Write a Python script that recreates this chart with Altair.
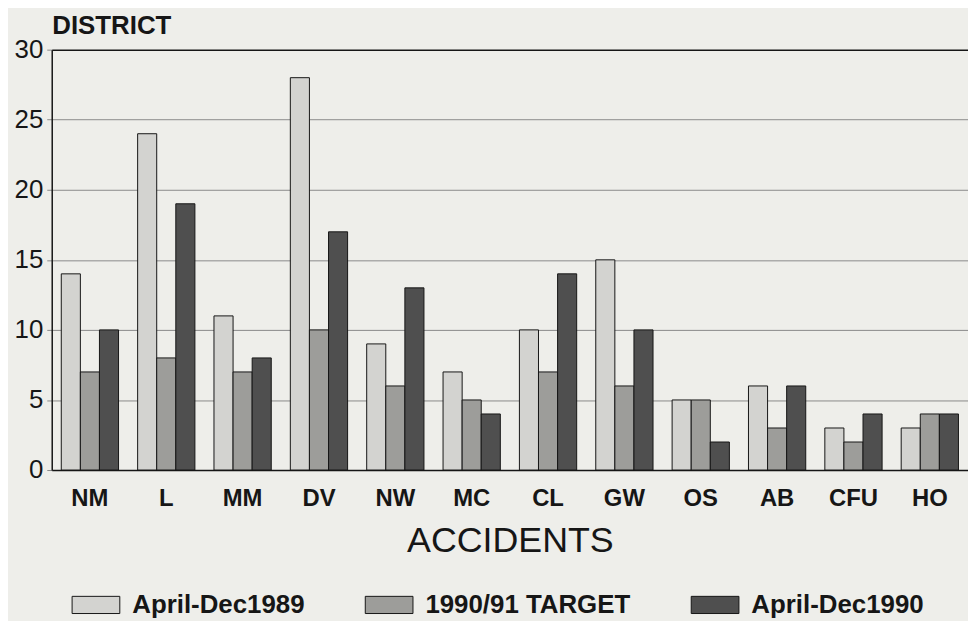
import altair as alt
import pandas as pd

districts = ["NM", "L", "MM", "DV", "NW", "MC", "CL", "GW", "OS", "AB", "CFU", "HO"]
series = ["April-Dec1989", "1990/91 TARGET", "April-Dec1990"]
apr_dec_1989 = [14, 24, 11, 28, 9, 7, 10, 15, 5, 6, 3, 3]
target_1990_91 = [7, 8, 7, 10, 6, 5, 7, 6, 5, 3, 2, 4]
apr_dec_1990 = [10, 19, 8, 17, 13, 4, 14, 10, 2, 6, 4, 4]
y_ticks = [0, 5, 10, 15, 20, 25, 30]
colors = ["#d3d3d0", "#9d9d9a", "#4f4f4f"]

rows = []
for s, vals in zip(series, [apr_dec_1989, target_1990_91, apr_dec_1990]):
    for d, v in zip(districts, vals):
        rows.append({"district": d, "series": s, "value": v})
df = pd.DataFrame(rows)

FONT = "Liberation Sans"
INK = "#161616"

chart = alt.Chart(df).mark_bar(stroke=INK, strokeWidth=1).encode(
    x=alt.X(
        "district:N",
        sort=districts,
        scale=alt.Scale(paddingInner=0.25, paddingOuter=0.125),
        axis=alt.Axis(
            title="ACCIDENTS",
            labelAngle=0,
            labelFont=FONT,
            labelFontSize=24,
            labelFontWeight="bold",
            labelColor=INK,
            labelPadding=17,
            tickSize=0,
            domainColor=INK,
            domainWidth=1.5,
            titleFont=FONT,
            titleFontSize=36,
            titleFontWeight="normal",
            titleColor=INK,
            titleY=82,
            titleBaseline="alphabetic",
        ),
    ),
    xOffset=alt.XOffset("series:N", sort=series, scale=alt.Scale(paddingInner=0, paddingOuter=0)),
    y=alt.Y(
        "value:Q",
        scale=alt.Scale(domain=[0, 30], nice=False),
        axis=alt.Axis(
            values=y_ticks,
            title="DISTRICT",
            titleAngle=0,
            titleX=0,
            titleY=-16,
            titleAlign="left",
            titleBaseline="alphabetic",
            titleFont=FONT,
            titleFontSize=26,
            titleFontWeight="bold",
            titleColor=INK,
            labelFont=FONT,
            labelFontSize=26,
            labelColor=INK,
            labelPadding=4,
            tickSize=5,
            tickColor="#8a8a8a",
            grid=True,
            gridColor={"condition": {"test": "datum.value === 30", "value": INK}, "value": "#8a8a8a"},
            gridWidth={"condition": {"test": "datum.value === 30", "value": 1.5}, "value": 1},
            domainColor=INK,
            domainWidth=1.5,
        ),
    ),
    color=alt.Color(
        "series:N",
        sort=series,
        scale=alt.Scale(domain=series, range=colors),
        legend=alt.Legend(
            title=None,
            orient="none",
            legendX=20,
            legendY=534,
            direction="horizontal",
            symbolType="M-1,-0.36H1V0.36H-1Z",
            symbolSize=2304,
            symbolStrokeColor=INK,
            symbolStrokeWidth=1,
            symbolOpacity=1,
            labelFont=FONT,
            labelFontSize=26,
            labelFontWeight="bold",
            labelColor=INK,
            labelOffset=12,
            labelLimit=500,
            columnPadding=58,
            padding=0,
        ),
    ),
).properties(
    width=922,
    height=423,
    autosize=alt.AutoSizeParams(type="none"),
    padding={"left": 44, "top": 40, "right": 0, "bottom": 150},
    background="#eeeeea",
).configure_view(stroke=None)

chart.save("out.html", embed_options={"renderer": "svg", "actions": False})
